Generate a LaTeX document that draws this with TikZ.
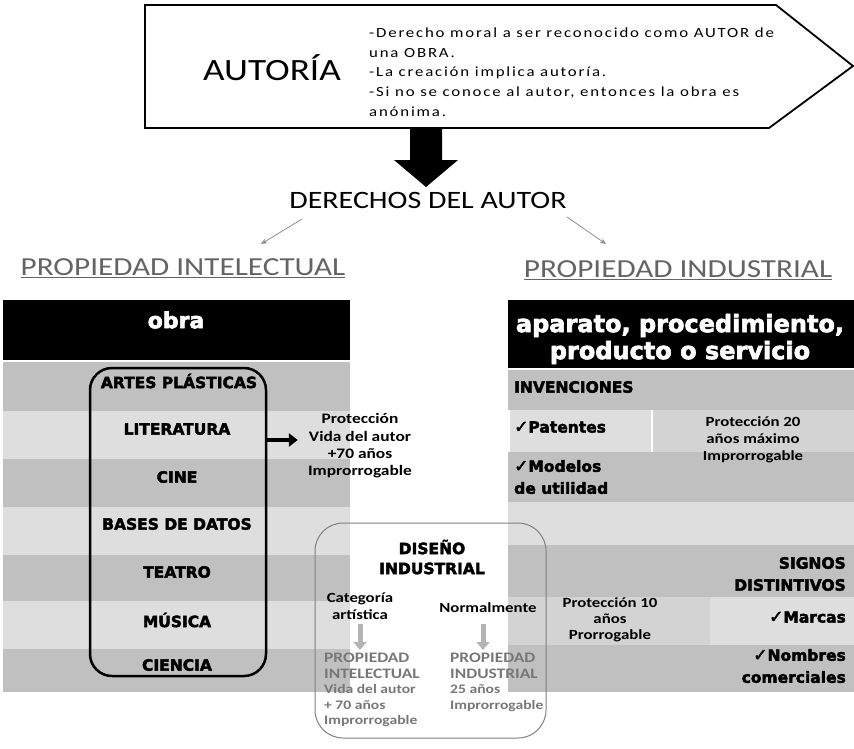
\documentclass[tikz,border=0pt]{standalone}
\usepackage{fontspec}
\setmainfont{Carlito}[FakeStretch=1.2]
\newfontfamily\heavyfont{DejaVu Sans}[BoldFeatures={FakeBold=2.6}]
\newfontfamily\spacedfont{Carlito}[FakeStretch=1.2,LetterSpace=13]
\usetikzlibrary{arrows.meta}
\definecolor{rowdark}{HTML}{C0C0C0}
\definecolor{rowlight}{HTML}{DEDEDE}
\definecolor{rowmid}{HTML}{D3D3D3}
\definecolor{titlegray}{HTML}{646464}
\definecolor{softgray}{HTML}{808080}
\definecolor{textgray}{HTML}{777777}
\definecolor{arrowgray}{HTML}{B4B4B4}
\newcommand\fsz[2]{\fontsize{#1}{#2}\selectfont}
\newcommand\chk{{\fsz{17}{17}✓}}
\tikzset{
  heavylabel/.style={font=\heavyfont\bfseries\fsz{15.5}{22}, inner sep=0pt},
  headtxt/.style={font=\heavyfont\bfseries\fsz{24}{27}, text=white, inner sep=0pt, align=center},
  bodybold/.style={font=\bfseries\fsz{14.5}{17.3}, inner sep=0pt, align=center},
  graytxt/.style={font=\bfseries\fsz{13}{15.5}, text=textgray, inner sep=0pt, align=left},
  thinarrow/.style={draw=softgray, line width=0.7pt, -{Stealth[open,length=6pt,width=5pt]}},
  grayarrow/.style={draw=arrowgray, line width=5pt, -{Triangle[length=8pt,width=13pt]}},
  blackarrow/.style={draw=black, line width=4.5pt, -{Triangle[length=9pt,width=13pt]}}
}
\begin{document}
\begin{tikzpicture}[x=1pt,y=-1pt]
\useasboundingbox (0,0) rectangle (854,748);
% ---------- banner ----------
\draw[line width=1.8pt, line join=miter] (145,5) -- (776,5) -- (853,66) -- (769,128) -- (145,128) -- cycle;
\node[font=\fsz{31}{31}, inner sep=0pt] (autoria) at (272,68) {AUTORÍA};
\node[font=\spacedfont\fsz{14}{19.7}, anchor=west, align=left, inner sep=0pt] (bullets) at (369,72)
 {-Derecho moral a ser reconocido como AUTOR de\\una OBRA.\\-La creación implica autoría.\\-Si no se conoce al autor, entonces la obra es\\anónima.};
% ---------- big arrow ----------
\fill (410,129) -- (442,129) -- (442,160) -- (458,160) -- (426,187) -- (394,160) -- (410,160) -- cycle;
\node[font=\fsz{25}{25}, inner sep=0pt] (derechos) at (428,200) {DERECHOS DEL AUTOR};
\coordinate (a1s) at (302,219); \coordinate (a1e) at (261,244);
\coordinate (a2s) at (567,217); \coordinate (a2e) at (606,244);
\draw[thinarrow] (a1s) -- (a1e);
\draw[thinarrow] (a2s) -- (a2e);
\node[font=\fsz{26}{26}, text=titlegray, inner sep=0pt] (pint) at (183,268) {\underline{PROPIEDAD INTELECTUAL}};
\node[font=\fsz{26}{26}, text=titlegray, inner sep=0pt] (pind) at (678,270) {\underline{PROPIEDAD INDUSTRIAL}};
% ---------- left table ----------
\fill[black] (3,300) rectangle (350,360);
\node[headtxt, font=\heavyfont\bfseries\fsz{22}{22}] (obra) at (176,320) {obra};
\foreach \ya/\yb/\c in {362/411/rowdark,411/459/rowlight,459/507/rowdark,507/555/rowlight,555/601/rowdark,601/649/rowlight,649/692/rowdark}
  \fill[\c] (3,\ya) rectangle (350,\yb);
\node[heavylabel] (artes) at (179,381) {ARTES PLÁSTICAS};
\node[heavylabel] (lit) at (177,429) {LITERATURA};
\node[heavylabel] (cine) at (177,477) {CINE};
\node[heavylabel] (bases) at (177,524) {BASES DE DATOS};
\node[heavylabel] (teatro) at (177,572) {TEATRO};
\node[heavylabel] (musica) at (177,620) {MÚSICA};
\node[heavylabel] (ciencia) at (177,665) {CIENCIA};
\draw[line width=2.5pt, rounded corners=22pt] (90,368) rectangle (266,676);
\coordinate (grpE) at (266,440);
\node[bodybold] (prot1) at (360,446) {Protección\\Vida del autor\\+70 años\\Improrrogable};
\draw[blackarrow] (grpE) -- ([xshift=-10pt]prot1.west |- grpE);
% ---------- right table ----------
\fill[black] (508,300) rectangle (854,368);
\node[headtxt] (aparato) at (680,339) {aparato, procedimiento,\\producto o servicio};
\fill[rowdark] (508,370) rectangle (854,410);
\fill[rowlight] (510,410) rectangle (651,452);
\fill[rowmid] (653,410) rectangle (854,452);
\fill[rowdark] (508,452) rectangle (854,502);
\fill[rowlight] (508,502) rectangle (854,545);
\fill[rowdark] (508,545) rectangle (854,597);
\fill[rowmid] (508,597) rectangle (710,645);
\fill[rowlight] (710,597) rectangle (854,645);
\fill[rowdark] (508,645) rectangle (854,692);
\node[heavylabel, anchor=west] (inv) at (514,387) {INVENCIONES};
\node[heavylabel, anchor=west] (pat) at (514,427) {\chk Patentes};
\node[heavylabel, anchor=west, align=left] (mod) at (514,477) {\chk Modelos\\de utilidad};
\node[bodybold, font=\bfseries\fsz{14}{17}] (prot20) at (753,440) {Protección 20\\años máximo\\Improrrogable};
\node[heavylabel, anchor=east, align=right] (signos) at (846,574) {SIGNOS\\DISTINTIVOS};
\node[heavylabel, anchor=east] (marcas) at (846,617) {\chk Marcas};
\node[heavylabel, anchor=east, align=right] (nombres) at (846,666) {\chk Nombres\\comerciales};
\node[bodybold, font=\bfseries\fsz{14}{16}] (prot10) at (610,620) {Protección 10\\años\\Prorrogable};
% ---------- diseño industrial ----------
\node[draw=softgray, line width=1pt, rounded corners=28pt, minimum width=231pt, minimum height=215pt, inner sep=0pt] (dibox) at (430.5,630.5) {};
\node[heavylabel, align=center, font=\heavyfont\bfseries\fsz{15.5}{20}] (diseno) at (432,557) {DISEÑO\\INDUSTRIAL};
\node[bodybold, font=\bfseries\fsz{14}{17}] (cat) at (360,606) {Categoría\\artística};
\node[bodybold, font=\bfseries\fsz{14}{17}] (normal) at (488,608) {Normalmente};
\node[graytxt, anchor=north west] (pi2) at (324,653) {{\fsz{14.5}{15.5}PROPIEDAD}\\{\fsz{14.5}{15.5}INTELECTUAL}\\Vida del autor\\+ 70 años\\Improrrogable};
\node[graytxt, anchor=north west] (pind2) at (450,653) {{\fsz{14.5}{15.5}PROPIEDAD}\\{\fsz{14.5}{15.5}INDUSTRIAL}\\25 años\\Improrrogable};
\draw[grayarrow] (360,624) -- (360,650);
\draw[grayarrow] (483,624) -- (483,650);
\end{tikzpicture}
\end{document}
